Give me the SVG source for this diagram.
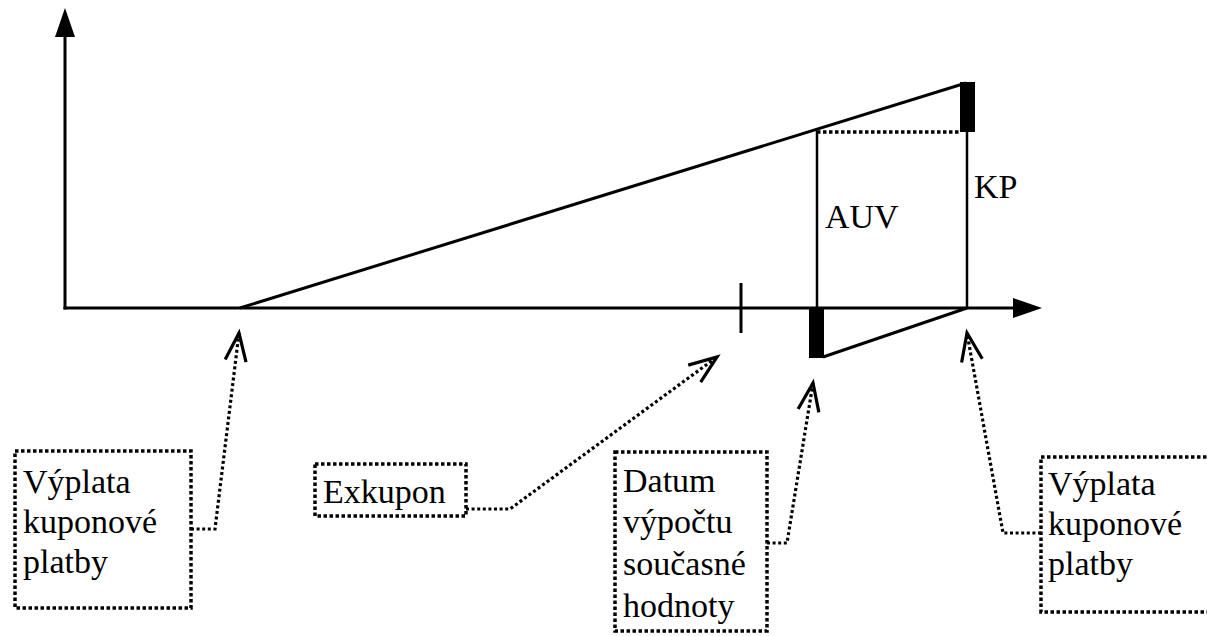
<svg xmlns="http://www.w3.org/2000/svg" width="1207" height="636" viewBox="0 0 1207 636">
  <style>
    .ln { stroke: #000; stroke-width: 3; fill: none; }
    .thin { stroke: #000; stroke-width: 2.5; fill: none; }
    .dot { stroke: #000; stroke-width: 3.5; fill: none; stroke-dasharray: 3.5 2.5; }
    .conn { stroke: #000; stroke-width: 3.2; fill: none; stroke-dasharray: 3 2.6; }
    .box { stroke: #000; stroke-width: 3.5; fill: none; stroke-dasharray: 3.5 2.5; }
    text { font-family: "Liberation Serif", "Times New Roman", "DejaVu Serif", serif; font-size: 34px; fill: #000; }
  </style>
  <defs>
    <marker id="open" markerUnits="userSpaceOnUse" markerWidth="40" markerHeight="30" viewBox="-30 -15 40 30" refX="0" refY="0" orient="auto" overflow="visible">
      <path d="M-28,-10.5 L0,0 L-28,10.5" fill="none" stroke="#000" stroke-width="3.2" stroke-dasharray="none"/>
    </marker>
  </defs>

  <rect width="1207" height="636" fill="#fff"/>

  <!-- axes -->
  <g id="axes">
    <line class="ln" x1="65" y1="36" x2="65" y2="309.5"/>
    <polygon points="65,8 55,37 75,37" fill="#000"/>
    <line class="ln" x1="63.5" y1="308" x2="1014" y2="308"/>
    <polygon points="1042,308 1013,298 1013,318" fill="#000"/>
  </g>

  <!-- accrual geometry -->
  <g id="accrual">
    <line class="ln" x1="240" y1="308" x2="966" y2="83"/>
    <rect x="960" y="82" width="15" height="50" fill="#000"/>
    <line class="dot" x1="817" y1="132" x2="960" y2="132"/>
    <line class="thin" x1="817" y1="131" x2="817" y2="308"/>
    <line class="thin" x1="967" y1="132" x2="967" y2="308"/>
    <line class="ln" x1="741" y1="283" x2="741" y2="333"/>
    <rect x="809" y="308" width="15" height="50" fill="#000"/>
    <line class="ln" x1="823" y1="357" x2="967" y2="308"/>
    <text x="825" y="228">AUV</text>
    <text x="974" y="198">KP</text>
  </g>

  <!-- callout boxes -->
  <g id="node-vyplata-1">
    <rect class="box" x="15" y="451" width="176" height="157"/>
    <text x="23" y="493">Výplata</text>
    <text x="23" y="533">kuponové</text>
    <text x="23" y="573">platby</text>
  </g>
  <g id="node-exkupon">
    <rect class="box" x="315" y="464" width="151" height="52"/>
    <text x="323" y="503">Exkupon</text>
  </g>
  <g id="node-datum">
    <rect class="box" x="615" y="452" width="152" height="179"/>
    <text x="623" y="492">Datum</text>
    <text x="623" y="533">výpočtu</text>
    <text x="623" y="575">současné</text>
    <text x="623" y="617">hodnoty</text>
  </g>
  <g id="node-vyplata-2">
    <rect class="box" x="1041" y="457" width="175" height="155"/>
    <text x="1048" y="495">Výplata</text>
    <text x="1048" y="535">kuponové</text>
    <text x="1048" y="575">platby</text>
  </g>

  <!-- connectors -->
  <g id="connectors">
    <path class="conn" d="M191,529 H215 L239,333" marker-end="url(#open)"/>
    <path class="conn" d="M466,509 H510 L717,357" marker-end="url(#open)"/>
    <path class="conn" d="M767,543 H787 L813,383" marker-end="url(#open)"/>
    <path class="conn" d="M1041,533 H1003 L967,333" marker-end="url(#open)"/>
  </g>
</svg>
